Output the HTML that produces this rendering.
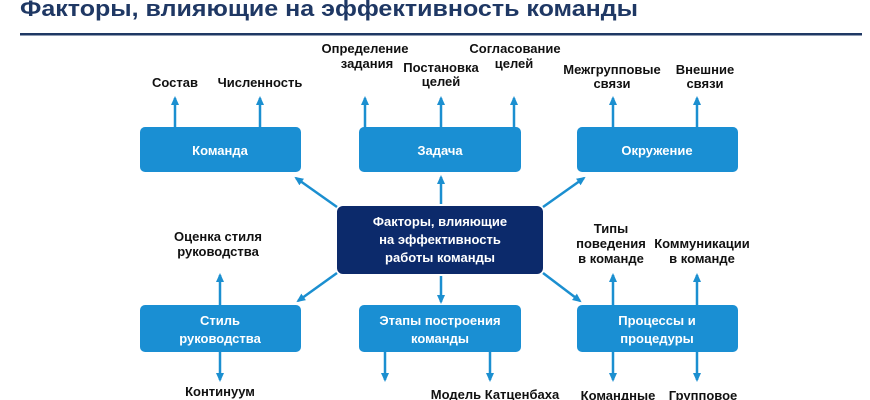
<!DOCTYPE html>
<html><head><meta charset="utf-8"><style>
html,body{margin:0;padding:0;background:#fff;}
svg{display:block;}
text{font-family:"Liberation Sans",sans-serif;font-weight:bold;}
</style></head><body>
<svg width="870" height="400" viewBox="0 0 870 400" xmlns="http://www.w3.org/2000/svg">
<defs>
<marker id="a" markerWidth="10" markerHeight="10" refX="7" refY="4" orient="auto" markerUnits="userSpaceOnUse">
<path d="M0,0 L9,4 L0,8 Z" fill="#1b8fd0"/>
</marker>
</defs>
<text x="20" y="16" font-size="22" fill="#1f3864" textLength="618" lengthAdjust="spacingAndGlyphs">Факторы, влияющие на эффективность команды</text>
<rect x="20" y="33" width="842" height="2.5" fill="#1f3864"/>

<g stroke="#1b8fd0" stroke-width="2.5" marker-end="url(#a)" fill="none">
<line x1="175" y1="128" x2="175" y2="98"/>
<line x1="260" y1="128" x2="260" y2="98"/>
<line x1="365" y1="128" x2="365" y2="98"/>
<line x1="441" y1="128" x2="441" y2="98"/>
<line x1="514" y1="128" x2="514" y2="98"/>
<line x1="613" y1="128" x2="613" y2="98"/>
<line x1="697" y1="128" x2="697" y2="98"/>
<line x1="337" y1="207" x2="296" y2="178"/>
<line x1="441" y1="204" x2="441" y2="177"/>
<line x1="543" y1="207" x2="584" y2="178"/>
<line x1="337" y1="273" x2="298" y2="301"/>
<line x1="441" y1="276" x2="441" y2="302"/>
<line x1="543" y1="273" x2="580" y2="301"/>
<line x1="220" y1="305" x2="220" y2="275"/>
<line x1="220" y1="352" x2="220" y2="380"/>
<line x1="385" y1="352" x2="385" y2="380"/>
<line x1="490" y1="352" x2="490" y2="380"/>
<line x1="613" y1="305" x2="613" y2="275"/>
<line x1="697" y1="305" x2="697" y2="275"/>
<line x1="613" y1="352" x2="613" y2="380"/>
<line x1="697" y1="352" x2="697" y2="380"/>
</g>

<g fill="#1a8fd3">
<rect x="140" y="127" width="161" height="45" rx="5"/>
<rect x="359" y="127" width="162" height="45" rx="5"/>
<rect x="577" y="127" width="161" height="45" rx="5"/>
<rect x="140" y="305" width="161" height="47" rx="5"/>
<rect x="359" y="305" width="162" height="47" rx="5"/>
<rect x="577" y="305" width="161" height="47" rx="5"/>
</g>
<rect x="337" y="206" width="206" height="68" rx="6" fill="#0c2a6b"/>

<g fill="#fff" font-size="13" text-anchor="middle">
<text x="220" y="155">Команда</text>
<text x="440" y="155">Задача</text>
<text x="657" y="155">Окружение</text>
<text x="440" y="226">Факторы, влияющие</text>
<text x="440" y="244">на эффективность</text>
<text x="440" y="262">работы команды</text>
<text x="220" y="325">Стиль</text>
<text x="220" y="343">руководства</text>
<text x="440" y="325">Этапы построения</text>
<text x="440" y="343">команды</text>
<text x="657" y="325">Процессы и</text>
<text x="657" y="343">процедуры</text>
</g>

<g fill="#111" font-size="13" text-anchor="middle">
<text x="175" y="87">Состав</text>
<text x="260" y="87">Численность</text>
<text x="365" y="53">Определение</text>
<text x="367" y="68">задания</text>
<text x="441" y="72">Постановка</text>
<text x="441" y="86">целей</text>
<text x="515" y="53">Согласование</text>
<text x="514" y="68">целей</text>
<text x="612" y="74">Межгрупповые</text>
<text x="612" y="88">связи</text>
<text x="705" y="74">Внешние</text>
<text x="705" y="88">связи</text>
<text x="218" y="241">Оценка стиля</text>
<text x="218" y="256">руководства</text>
<text x="611" y="233">Типы</text>
<text x="611" y="248">поведения</text>
<text x="611" y="263">в команде</text>
<text x="702" y="248">Коммуникации</text>
<text x="702" y="263">в команде</text>
<text x="220" y="396">Континуум</text>
<text x="495" y="399">Модель Катценбаха</text>
<text x="618" y="400">Командные</text>
<text x="703" y="400">Групповое</text>
</g>
</svg>
</body></html>
